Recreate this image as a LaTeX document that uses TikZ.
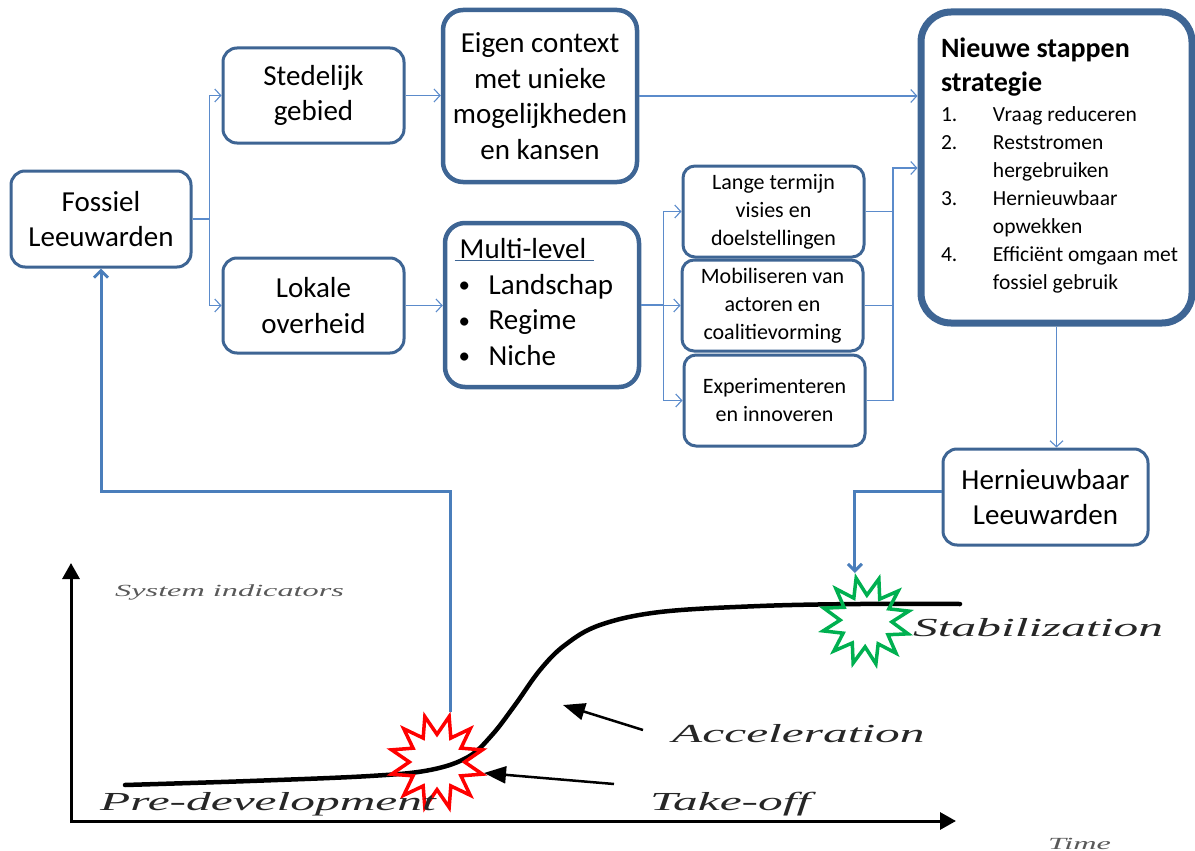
\documentclass[tikz,border=0pt]{standalone}
\usepackage{fontspec}
\setmainfont{Carlito}
\newfontfamily\chartfont[FakeStretch=1.9]{Liberation Serif}
\usetikzlibrary{shapes,arrows.meta,positioning,calc}
\definecolor{boxblue}{HTML}{3E6594}
\definecolor{linkblue}{HTML}{5B8BCB}
\definecolor{flowblue}{HTML}{4A7EBB}
\definecolor{burstgreen}{HTML}{00B050}
\newcommand{\levelbullet}{\hspace{4pt}{\fontsize{23}{23}\selectfont\raisebox{1.5pt}{\textbullet}}}

\begin{document}
\begin{tikzpicture}[
    x=1pt, y=-1pt,
    box/.style={rectangle, rounded corners=14pt, draw=boxblue, line width=3pt, fill=white, align=center, inner sep=0pt, font=\fontsize{29}{35.5}\selectfont},
    bigbox/.style={box, line width=4.5pt, rounded corners=20pt},
    smallbox/.style={box, rounded corners=12pt, minimum width=181pt, minimum height=91pt, font=\fontsize{22}{28}\selectfont},
    link/.style={draw=linkblue, line width=1.1pt, -{Straight Barb[length=6pt,width=13pt]}},
    linkline/.style={draw=linkblue, line width=1.1pt},
    backlink/.style={draw=flowblue, line width=3pt, -{Straight Barb[length=7pt,width=14pt]}},
    pointer/.style={line width=2.5pt, -{Triangle[length=22pt,width=17pt]}},
    axis/.style={line width=3pt, -{Triangle[length=16pt,width=17pt]}},
    phase/.style={font=\chartfont\itshape\fontsize{26}{30}\selectfont, text=black!85, inner sep=0pt, anchor=base west},
    axislabel/.style={font=\chartfont\itshape\fontsize{17}{20}\selectfont, text=black!65, inner sep=0pt, anchor=base west},
    burst/.style={star, star points=12, star point ratio=1.7, line width=3.5pt, inner sep=0pt}
]
\useasboundingbox (0,0) rectangle (1195,851);

\node[box, minimum width=180pt, minimum height=96pt] (fossiel) at (101,219) {Fossiel\\Leeuwarden};
\node[box, minimum width=181pt, minimum height=95pt] (stedelijk) at (313.5,95.5) {Stedelijk\\gebied};
\node[box, minimum width=181pt, minimum height=95pt] (lokale) at (313.5,305.5) {Lokale\\overheid};
\node[bigbox, minimum width=194pt, minimum height=172pt] (eigen) at (540,96) {Eigen context\\met unieke\\mogelijkheden\\en kansen};
\node[bigbox, minimum width=194pt, minimum height=164pt] (multi) at (542,305) {%
  \begin{tabular}{@{}p{34pt}@{}l@{\hspace{16pt}}}
  \multicolumn{2}{@{}l@{\hspace{16pt}}}{\textcolor{boxblue}{\underline{\textcolor{black}{\makebox[139pt][l]{\hspace{5pt}Multi-level}}}}}\\
  \levelbullet & Landschap\\
  \levelbullet & Regime\\
  \levelbullet & Niche
  \end{tabular}};
\node[smallbox] (lange) at (773.5,211.5) {Lange termijn\\visies en\\doelstellingen};
\node[smallbox] (mobil) at (772.5,305.5) {Mobiliseren van\\actoren en\\coalitievorming};
\node[smallbox] (exper) at (774.5,400.5) {Experimenteren\\en innoveren};
\node[box, line width=7pt, rounded corners=30pt, minimum width=271pt, minimum height=311pt, font=\fontsize{21.5}{28}\selectfont] (nieuwe) at (1056.5,167.5) {%
  \begin{tabular}{@{\hspace{6pt}}p{52pt}@{}l@{}}
  \multicolumn{2}{@{\hspace{6pt}}l@{}}{\fontsize{28}{34}\selectfont\bfseries Nieuwe stappen}\\[6pt]
  \multicolumn{2}{@{\hspace{6pt}}l@{}}{\fontsize{28}{34}\selectfont\bfseries strategie}\\[2pt]
  1. & Vraag reduceren\\
  2. & Reststromen\\
     & hergebruiken\\
  3. & Hernieuwbaar\\
     & opwekken\\
  4. & Efficiënt omgaan met\\
     & fossiel gebruik
  \end{tabular}};
\node[box, minimum width=205pt, minimum height=96pt] (hern) at (1045.5,497) {Hernieuwbaar\\Leeuwarden};

\draw[link] (fossiel.east) -- ++(17,0) |- (stedelijk.west);
\draw[link] (fossiel.east) -- ++(17,0) |- (lokale.west);
\draw[link] (stedelijk.east) -- (stedelijk.east -| eigen.west);
\draw[link] (lokale.east) -- (lokale.east -| multi.west);
\draw[link] (multi.east) -- ++(22,0) |- (lange.west);
\draw[link] (multi.east) -- ++(22,0) |- (mobil.west);
\draw[link] (multi.east) -- ++(22,0) |- (exper.west);
\coordinate (merge) at (893,168);
\draw[link] (exper.east) -| (merge) -- (merge -| nieuwe.west);
\draw[linkline] (lange.east) -- (lange.east -| merge);
\draw[linkline] (mobil.east) -- (mobil.east -| merge);
\draw[link] (eigen.east) -- (eigen.east -| nieuwe.west);
\draw[link] (nieuwe.south) -- (nieuwe.south |- hern.north);

\draw[axis] (71,823) -- (71,563);
\draw[axis] (70,821) -- (956,821);
\draw[line width=4.5pt, line cap=round] plot[smooth, tension=0.6] coordinates {(125,785) (250,781) (370,776) (430,770) (468,757) (492,735) (515,705) (540,670) (565,645) (600,625) (660,612) (760,606) (860,604) (960,604)};

\node[burst, draw=red, minimum size=94pt, shape border rotate=-15] (redstar) at (437,762) {};
\node[burst, draw=burstgreen, minimum size=88pt, shape border rotate=13] (greenstar) at (866,621) {};
\coordinate (redtop) at (redstar.outer point 1);
\coordinate (greentop) at (greenstar.outer point 1);

\draw[backlink] ($(hern.west)+(0,-6)$) -| (greentop);
\draw[backlink] (redtop) -- (redtop |- 0,491) -| (fossiel.south);

\node[axislabel] (sysind) at (115,596) {System indicators};
\node[axislabel] (time) at (1048,849) {Time};
\node[phase] (predev) at (100,810) {Pre-development};
\node[phase] (takeoff) at (650,810) {Take-off};
\node[phase] (accel) at (672,742) {Acceleration};
\node[phase] (stabil) at (913,636) {Stabilization};

\coordinate (takeofftail) at (614,784);
\coordinate (takeofftip) at (484,773);
\coordinate (acceltail) at (643,730);
\coordinate (acceltip) at (563,705);
\draw[pointer] (takeofftail) -- (takeofftip);
\draw[pointer] (acceltail) -- (acceltip);
\end{tikzpicture}
\end{document}
